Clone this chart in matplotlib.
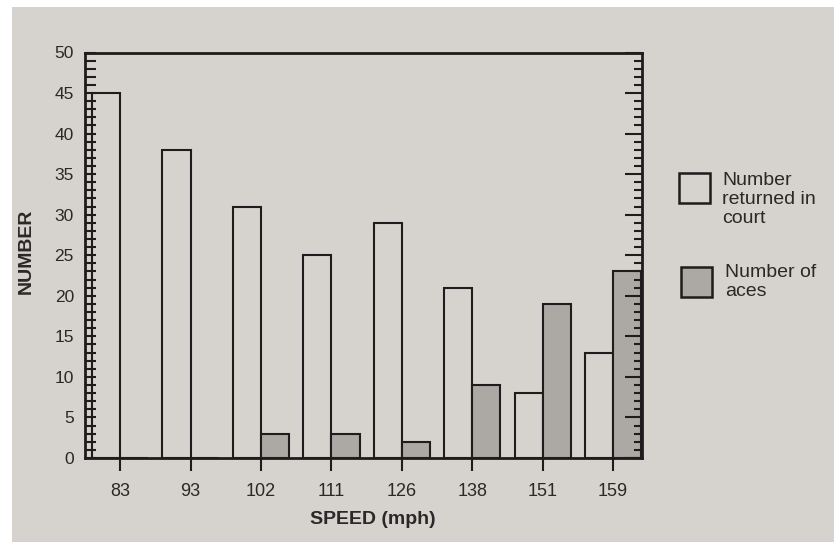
import matplotlib
matplotlib.use("Agg")
import matplotlib.pyplot as plt
from matplotlib.patches import Rectangle
from matplotlib.ticker import MultipleLocator
import numpy as np

speeds = ["83", "93", "102", "111", "126", "138", "151", "159"]
returned_in_court = [45, 38, 31, 25, 29, 21, 8, 13]
aces = [0, 0, 3, 3, 2, 9, 19, 23]
legend_labels = ["Number\nreturned in\ncourt", "Number of\naces"]

paper = "#d6d2cd"
ace_gray = "#aca8a4"
ink = "#1e1c1c"
txt = "#2a2828"

plt.rcParams['font.family'] = ['Liberation Sans', 'DejaVu Sans']

W, H = 834, 542
fig = plt.figure(figsize=(8.34, 5.42), dpi=100, facecolor=paper)
# white margins of the photograph (top and left)
fig.patches.append(Rectangle((0, 1 - 7/H), 1, 7/H, transform=fig.transFigure,
                             facecolor="white", edgecolor="none", zorder=-10))
fig.patches.append(Rectangle((0, 0), 12/W, 1, transform=fig.transFigure,
                             facecolor="white", edgecolor="none", zorder=-10))

ax = fig.add_axes([85/W, 84/H, (642-85)/W, (489.5-84)/H])
ax.set_facecolor("none")

x = np.arange(len(speeds))
w = 0.4
ax.bar(x, returned_in_court, width=-w, align="edge", facecolor="none",
       edgecolor=ink, linewidth=1.5, zorder=3)
ax.bar(x, aces, width=w, align="edge", facecolor=ace_gray,
       edgecolor=ink, linewidth=1.5, zorder=3)

ax.set_xlim(-0.5, 7.41)
ax.set_ylim(0, 50)

for s in ax.spines.values():
    s.set_linewidth(2.0)
    s.set_color(ink)

ax.set_xticks(x)
ax.set_xticklabels(speeds, fontsize=13, color=txt)
ax.tick_params(axis="x", direction="out", length=9, width=1.5, color=ink, pad=9)

ax.yaxis.set_major_locator(MultipleLocator(5))
ax.yaxis.set_minor_locator(MultipleLocator(1))
ax.tick_params(axis="y", which="major", direction="in", length=8, width=1.5,
               color=ink, labelsize=12.5, labelcolor=txt, pad=8)
ax.tick_params(axis="y", which="minor", direction="in", length=8, width=1.5, color=ink)

ax2 = ax.twinx()
ax2.set_ylim(0, 50)
ax2.yaxis.set_major_locator(MultipleLocator(5))
ax2.yaxis.set_minor_locator(MultipleLocator(1))
ax2.tick_params(axis="y", which="major", direction="in", length=12, width=1.5,
                color=ink, labelright=False)
ax2.tick_params(axis="y", which="minor", direction="in", length=6, width=1.5, color=ink)
for s in ax2.spines.values():
    s.set_visible(False)

fig.text(373/W, 1 - 519/H, "SPEED (mph)", fontsize=14, fontweight="bold", color=txt,
         ha="center", va="center")
fig.text(26/W, 1 - 251/H, "NUMBER", rotation=90, fontsize=14, fontweight="bold",
         color=txt, ha="center", va="center")

# legend drawn in figure pixels
def box(x0, y0, x1, y1, fc):
    fig.patches.append(Rectangle((x0/W, 1 - y1/H), (x1-x0)/W, (y1-y0)/H,
                                 transform=fig.transFigure, facecolor=fc,
                                 edgecolor=ink, linewidth=1.8))
box(679, 173, 710, 203, "none")
box(681, 267, 712, 297, ace_gray)
fig.text(722/W, 1 - 172/H, legend_labels[0], fontsize=14, color=txt,
         ha="left", va="top", linespacing=1.17)
fig.text(725/W, 1 - 264/H, legend_labels[1], fontsize=14, color=txt,
         ha="left", va="top", linespacing=1.17)

fig.savefig("out.png", dpi=100, facecolor=fig.get_facecolor())
